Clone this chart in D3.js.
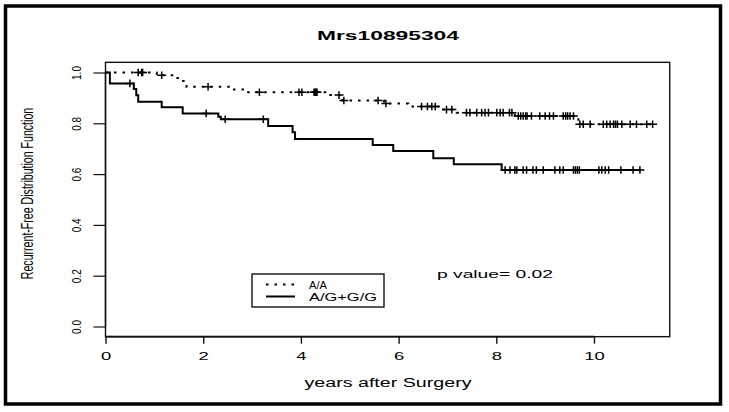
<!DOCTYPE html>
<html>
<head>
<meta charset="utf-8">
<script src="https://cdn.jsdelivr.net/npm/d3@7"></script>
<style>
  html, body { margin: 0; padding: 0; background: #fff; }
  svg { display: block; }
  text { font-family: "Liberation Sans", Arial, Helvetica, sans-serif; fill: #000; }
</style>
</head>
<body>
<svg id="chart" width="729" height="412"></svg>
<script>
// ---------------- DATA ----------------
const titleText = "Mrs10895304";
const xLabel = "years after Surgery";
const yLabel = "Recurrent-Free Distribution Function";
const xTicks = [0, 2, 4, 6, 8, 10];
const yTicks = [0.0, 0.2, 0.4, 0.6, 0.8, 1.0];
const seriesNames = ["A/A", "A/G+G/G"];
const pValueText = "p value= 0.02";

// A/A (dotted) Kaplan-Meier steps
const aaTimes = [0, 1.05, 1.45, 1.52, 1.60, 1.66, 2.60, 2.90, 4.60, 4.85, 5.70, 6.20, 6.85, 7.19, 8.38, 9.68];
const aaSurv  = [1.0, 0.989, 0.978, 0.967, 0.955, 0.944, 0.933, 0.922, 0.911, 0.890, 0.878, 0.866, 0.854, 0.842, 0.829, 0.796];
const aaEnd = 11.20;
const aaCensor = [0.67, 0.74, 0.76, 1.15, 2.10, 3.15, 3.96, 4.02, 4.27, 4.29, 4.31, 4.33, 4.78, 4.88,
  5.58, 5.74, 6.47, 6.59, 6.68, 6.75, 6.98, 7.09, 7.39, 7.46, 7.60, 7.70, 7.77, 7.84, 8.01, 8.08,
  8.14, 8.27, 8.32, 8.45, 8.50, 8.55, 8.60, 8.63, 8.72, 8.89, 9.00, 9.09, 9.17, 9.37, 9.42, 9.46,
  9.51, 9.58, 9.71, 9.78, 9.92, 10.19, 10.26, 10.33, 10.40, 10.44, 10.48, 10.57, 10.74, 10.87, 11.08, 11.20];

// A/G+G/G (solid) Kaplan-Meier steps
const agTimes = [0, 0.09, 0.58, 0.63, 0.67, 1.15, 1.58, 2.31, 2.36, 3.33, 3.83, 3.88, 5.47, 5.89, 6.71, 7.13, 8.11];
const agSurv  = [1.0, 0.957, 0.935, 0.910, 0.885, 0.863, 0.839, 0.826, 0.816, 0.789, 0.765, 0.738, 0.715, 0.691, 0.662, 0.639, 0.616];
const agEnd = 10.94;
const agCensor = [0.50, 2.06, 2.45, 3.23, 8.18, 8.28, 8.38, 8.42, 8.55, 8.62, 8.75, 8.82, 8.96,
  9.20, 9.30, 9.37, 9.58, 9.62, 9.66, 9.70, 10.10, 10.16, 10.23, 10.30, 10.55, 10.80, 10.94];

// ---------------- DRAW ----------------
const svg = d3.select("#chart");
const x = d3.scaleLinear().domain([0, 10]).range([105.5, 594]);
const y = d3.scaleLinear().domain([0, 1]).range([326.5, 72.5]);
const boxX = [0, 11.55], boxY = [-0.04, 1.04];

function stretch(sel, k) {
  sel.each(function () {
    const w = this.getComputedTextLength();
    d3.select(this).attr("textLength", w * k).attr("lengthAdjust", "spacingAndGlyphs");
  });
}
function fitWidth(sel, w) {
  sel.attr("textLength", w).attr("lengthAdjust", "spacingAndGlyphs");
}

// outer frame
svg.append("rect").attr("x", 5.5).attr("y", 6).attr("width", 715).attr("height", 398)
  .attr("fill", "#fff").attr("stroke", "#000").attr("stroke-width", 3.5);

// plot box
svg.append("rect")
  .attr("x", x(boxX[0])).attr("y", y(boxY[1]))
  .attr("width", x(boxX[1]) - x(boxX[0])).attr("height", y(boxY[0]) - y(boxY[1]))
  .attr("fill", "none").attr("stroke", "#111").attr("stroke-width", 1.4);

// x axis
const gx = svg.append("g").attr("transform", `translate(0,${y(boxY[0])})`)
  .call(d3.axisBottom(x).tickValues(xTicks).tickSize(7).tickFormat(d3.format("d")));
gx.select(".domain").attr("stroke", "#111").attr("stroke-width", 1.8)
  .attr("d", `M${x(0)},0H${x(10)}`);
gx.selectAll(".tick line").attr("stroke", "#111").attr("stroke-width", 1.4);
gx.selectAll(".tick text").attr("y", 23.5).attr("dy", null)
  .style("font-size", "11.5px").attr("fill", "#000");
stretch(gx.selectAll(".tick text"), 1.6);

// y axis
const gy = svg.append("g").attr("transform", `translate(${x(0)},0)`)
  .call(d3.axisLeft(y).tickValues(yTicks).tickSize(12).tickFormat(d3.format(".1f")));
gy.select(".domain").attr("stroke", "#111").attr("stroke-width", 1.4)
  .attr("d", `M0,${y(0)}V${y(1)}`);
gy.selectAll(".tick line").attr("stroke", "#111").attr("stroke-width", 1.2);
gy.selectAll(".tick text")
  .attr("x", null).attr("dy", null)
  .attr("text-anchor", "middle")
  .attr("transform", "translate(-24.5,0) scale(1.2,1) rotate(-90)")
  .style("font-size", "10px").attr("fill", "#000");

// curves
function stepPoints(ts, ss, end) {
  const pts = ts.map((t, i) => [t, ss[i]]);
  pts.push([end, ss[ss.length - 1]]);
  return pts;
}
function survAt(ts, ss, t) {
  let s = ss[0];
  for (let i = 0; i < ts.length; i++) if (ts[i] <= t) s = ss[i];
  return s;
}
const line = d3.line().x(d => x(d[0])).y(d => y(d[1])).curve(d3.curveStepAfter);

svg.append("path").datum(stepPoints(aaTimes, aaSurv, aaEnd))
  .attr("d", line).attr("fill", "none").attr("stroke", "#000")
  .attr("stroke-width", 2).attr("stroke-dasharray", "2.5 6");
svg.append("path").datum(stepPoints(agTimes, agSurv, agEnd))
  .attr("d", line).attr("fill", "none").attr("stroke", "#000")
  .attr("stroke-width", 2);

function censorMarks(ts, ss, cens) {
  svg.append("g").selectAll("path").data(cens).join("path")
    .attr("d", t => {
      const cx = x(t), cy = y(survAt(ts, ss, t));
      return `M${cx - 4.5},${cy}h9M${cx},${cy - 3.8}v7.6`;
    })
    .attr("stroke", "#000").attr("stroke-width", 1.5).attr("fill", "none");
}
censorMarks(aaTimes, aaSurv, aaCensor);
censorMarks(agTimes, agSurv, agCensor);

// title
svg.append("text").attr("x", 388).attr("y", 40).attr("text-anchor", "middle")
  .style("font-size", "13px").style("font-weight", "bold").text(titleText)
  .call(fitWidth, 142);

// x label
svg.append("text").attr("x", 388).attr("y", 386.5).attr("text-anchor", "middle")
  .style("font-size", "12px").text(xLabel).call(fitWidth, 167);

// y label
svg.append("text").attr("text-anchor", "middle")
  .attr("transform", "translate(33,193.5) scale(1.63,1) rotate(-90)")
  .style("font-size", "10.6px").text(yLabel);

// legend
const lg = svg.append("g");
lg.append("rect").attr("x", 252).attr("y", 274).attr("width", 132).attr("height", 33)
  .attr("fill", "#fff").attr("stroke", "#000").attr("stroke-width", 1.3);
lg.append("line").attr("x1", 266).attr("x2", 294).attr("y1", 284.5).attr("y2", 284.5)
  .attr("stroke", "#000").attr("stroke-width", 2).attr("stroke-dasharray", "2.5 6");
lg.append("line").attr("x1", 266).attr("x2", 295).attr("y1", 296.5).attr("y2", 296.5)
  .attr("stroke", "#000").attr("stroke-width", 2);
lg.append("text").attr("x", 309).attr("y", 289).style("font-size", "10.5px")
  .text(seriesNames[0]).call(fitWidth, 18);
lg.append("text").attr("x", 309).attr("y", 300.5).style("font-size", "10.5px")
  .text(seriesNames[1]).call(fitWidth, 68);

// p value
svg.append("text").attr("x", 437).attr("y", 278).style("font-size", "11px")
  .text(pValueText).call(fitWidth, 116);
</script>
</body>
</html>
